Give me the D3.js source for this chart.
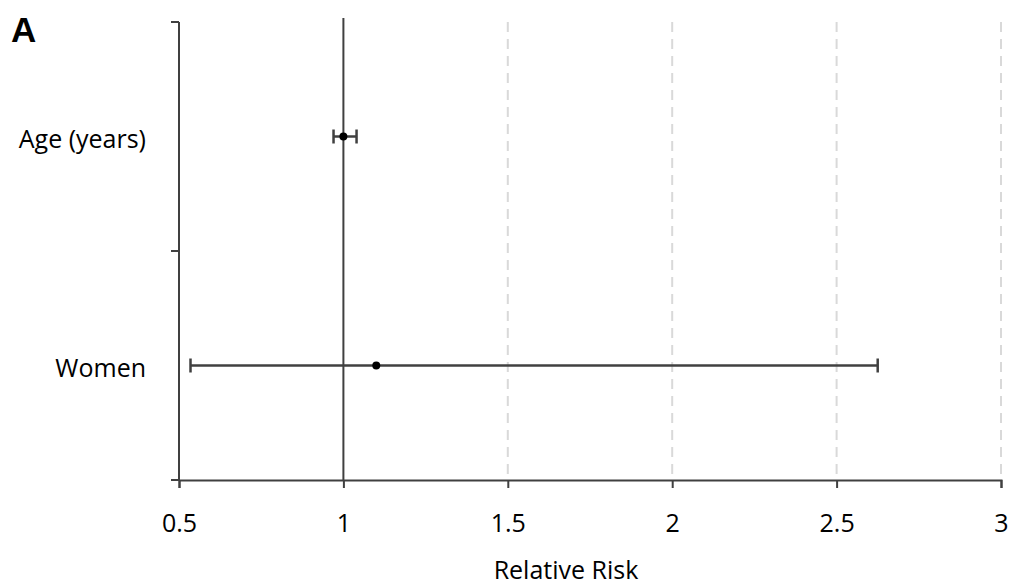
<!DOCTYPE html>
<html><head><meta charset="utf-8">
<script src="https://cdn.jsdelivr.net/npm/d3@7"></script>
<style>body{margin:0;background:#fff}svg{display:block}</style>
</head><body>
<svg id="c" width="1014" height="586"></svg>
<script>
const categories = ["Age (years)", "Women"];
const estimates = [1.0, 1.1];
const lower = [0.97, 0.535];
const upper = [1.04, 2.625];
const xTicks = [0.5, 1, 1.5, 2, 2.5, 3];
const gridTicks = [1.5, 2, 2.5, 3];
const panelLabel = "A";
const xTitle = "Relative Risk";

(function () {
const svg = d3.select("#c");
const font = "'Open Sans', sans-serif";
const fs = 25;
const pLeft = 179, pRight = 1001, pTop = 22, pBottom = 480;
const x = d3.scaleLinear().domain([0.5, 3]).range([pLeft, pRight]);
const yBand = d3.scaleBand().domain(categories).range([pTop, pBottom]);
const y = c => yBand(c) + yBand.bandwidth() / 2;

// grid
svg.append("g").selectAll("line").data(gridTicks).join("line")
  .attr("x1", d => x(d)).attr("x2", d => x(d))
  .attr("y1", pTop).attr("y2", pBottom)
  .attr("stroke", "#d9d9d9").attr("stroke-width", 2).attr("stroke-dasharray", "10,7");

// reference line at 1
svg.append("line").attr("x1", x(1)).attr("x2", x(1)).attr("y1", 18).attr("y2", pBottom)
  .attr("stroke", "#404040").attr("stroke-width", 2);

// x axis
const xAxis = d3.axisBottom(x).tickValues(xTicks).tickSize(8).tickPadding(10).tickFormat(d3.format("~g"));
const gx = svg.append("g").attr("transform", `translate(0,${pBottom})`).call(xAxis);
gx.select(".domain").attr("stroke", "#404040").attr("stroke-width", 2);
gx.selectAll(".tick line").attr("stroke", "#404040").attr("stroke-width", 2);
gx.selectAll("text").attr("font-family", font).attr("font-size", fs).attr("fill", "#000")
  .attr("y", 0).attr("dy", 0).attr("transform", "translate(0,52)");

// y axis (ticks at category boundaries)
const yTickVals = [pTop, (pTop + pBottom) / 2, pBottom];
svg.append("line").attr("x1", pLeft).attr("x2", pLeft).attr("y1", pTop).attr("y2", pBottom)
  .attr("stroke", "#404040").attr("stroke-width", 2);
svg.append("g").selectAll("line").data(yTickVals).join("line")
  .attr("x1", pLeft - 8).attr("x2", pLeft).attr("y1", d => d).attr("y2", d => d)
  .attr("stroke", "#404040").attr("stroke-width", 2);

// category labels
svg.append("g").selectAll("text").data(categories).join("text")
  .attr("x", 146).attr("y", d => y(d) + 11)
  .attr("text-anchor", "end").attr("font-family", font).attr("font-size", fs).attr("fill", "#000")
  .text(d => d);

// error bars
const rows = categories.map((c, i) => ({c, est: estimates[i], lo: lower[i], hi: upper[i]}));
const g = svg.append("g");
g.selectAll("line.ci").data(rows).join("line").attr("class", "ci")
  .attr("x1", d => x(d.lo)).attr("x2", d => x(d.hi)).attr("y1", d => y(d.c)).attr("y2", d => y(d.c))
  .attr("stroke", "#404040").attr("stroke-width", 2.5);
g.selectAll("line.capl").data(rows).join("line").attr("class", "capl")
  .attr("x1", d => x(d.lo)).attr("x2", d => x(d.lo)).attr("y1", d => y(d.c) - 7).attr("y2", d => y(d.c) + 7)
  .attr("stroke", "#404040").attr("stroke-width", 2.5);
g.selectAll("line.caph").data(rows).join("line").attr("class", "caph")
  .attr("x1", d => x(d.hi)).attr("x2", d => x(d.hi)).attr("y1", d => y(d.c) - 7).attr("y2", d => y(d.c) + 7)
  .attr("stroke", "#404040").attr("stroke-width", 2.5);
g.selectAll("circle").data(rows).join("circle")
  .attr("cx", d => x(d.est)).attr("cy", d => y(d.c)).attr("r", 4).attr("fill", "#000");

// texts
svg.append("text").attr("x", 11).attr("y", 42).attr("font-family", "'Liberation Sans', Arial, sans-serif")
  .attr("font-weight", "bold").attr("font-size", 35).attr("fill", "#000").text(panelLabel);
svg.append("text").attr("x", 566).attr("y", 579).attr("text-anchor", "middle")
  .attr("font-family", font).attr("font-size", fs).attr("fill", "#000").text(xTitle);
})();
</script>
</body></html>
